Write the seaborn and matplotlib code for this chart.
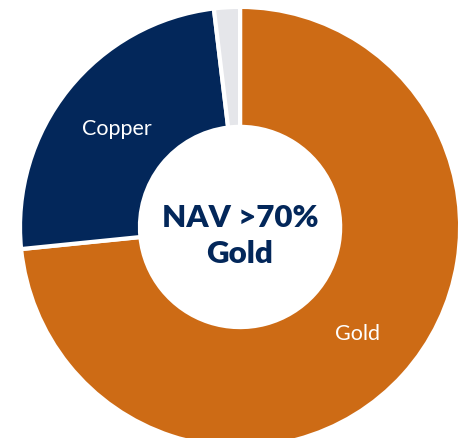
import numpy as np
import matplotlib
matplotlib.use("Agg")
import matplotlib.pyplot as plt
import seaborn as sns

categories = ["Gold", "Copper", "Other"]
values = [73.4, 24.7, 1.9]
labels = ["Gold", "Copper", ""]
center_text = "NAV >70%\nGold"

sns.set_theme(style="white")
plt.rcParams["font.family"] = ["Lato", "DejaVu Sans"]

colors = sns.color_palette(["#CD6B15", "#03275A", "#E5E6EA"])

fig = plt.figure(figsize=(4.59, 4.39), dpi=100)
ax = fig.add_axes([0, 0, 1, 1])
wedges, _ = ax.pie(values, colors=colors, startangle=90, counterclock=False,
                   radius=1.0,
                   wedgeprops=dict(width=0.545, edgecolor="white", linewidth=3))

total = sum(values)
start = 90.0
for v, lab in zip(values, labels):
    ang = start - 360 * v / total / 2
    start -= 360 * v / total
    if lab:
        r = 0.72
        ax.text(r * np.cos(np.radians(ang)), r * np.sin(np.radians(ang)), lab,
                color="white", fontsize=15.5, ha="center", va="center")

ax.text(0, -0.035, center_text, ha="center", va="center", fontsize=22.5,
        fontweight="heavy", color="#03275A", linespacing=1.35)

ax.set_xlim(-1.091, 0.995)
ax.set_ylim(-0.959, 1.036)
ax.set_aspect("auto")
ax.axis("off")
fig.savefig("out.png", dpi=100)
